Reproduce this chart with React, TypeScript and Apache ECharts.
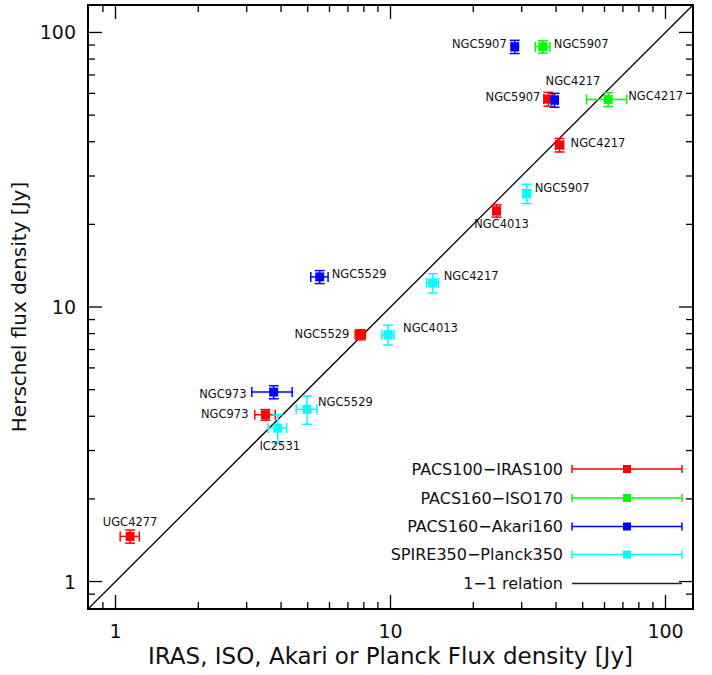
import React, { useEffect, useRef } from 'react';
import * as echarts from 'echarts';

// ---- axis extent (log10 from -0.1 to 2.1) ----
const AXIS_MIN = Math.pow(10, -0.1);
const AXIS_MAX = Math.pow(10, 2.1);
const majorTicks = [1, 10, 100];
const minorTicks = [0.9, 2, 3, 4, 5, 6, 7, 8, 9, 20, 30, 40, 50, 60, 70, 80, 90];

const xTitle = 'IRAS, ISO, Akari or Planck Flux density [Jy]';
const yTitle = 'Herschel flux density [Jy]';

// ---- PACS100 - IRAS100 (red) ----
const redNames = ['UGC4277', 'NGC973', 'NGC5529', 'NGC4013', 'NGC4217', 'NGC5907'];
const redX = [1.13, 3.51, 7.77, 24.3, 41.2, 37.5];
const redXErr = [0.09, 0.3, 0.33, 0.6, 1.4, 1.4];
const redY = [1.46, 4.05, 7.93, 22.4, 38.9, 57.2];
const redYErr = [0.08, 0.18, 0.34, 1.15, 2.2, 3.3];

// ---- PACS160 - ISO170 (green) ----
const greenNames = ['NGC5907', 'NGC4217'];
const greenX = [35.8, 61.9];
const greenXErr = [2.2, 10.3];
const greenY = [88.7, 57.0];
const greenYErr = [4.6, 3.3];

// ---- PACS160 - Akari160 (blue) ----
const blueNames = ['NGC5907', 'NGC4217', 'NGC5529', 'NGC973'];
const blueX = [28.3, 39.5, 5.53, 3.76];
const blueXErr = [0.7, 1.0, 0.4, 0.63];
const blueY = [88.7, 56.7, 12.87, 4.9];
const blueYErr = [4.9, 3.3, 0.7, 0.27];

// ---- SPIRE350 - Planck350 (cyan) ----
const cyanNames = ['IC2531', 'NGC5529', 'NGC4013', 'NGC4217', 'NGC5907'];
const cyanX = [3.89, 4.97, 9.8, 14.24, 31.3];
const cyanXErr = [0.3, 0.43, 0.5, 0.72, 1.0];
const cyanY = [3.62, 4.24, 7.93, 12.23, 25.9];
const cyanYErr = [0.43, 0.5, 0.66, 0.99, 2.1];

// label placement (pixel offsets from the marker, text alignment)
const redLabelLayout: [number, number, string][] = [
  [0, -14, 'center'], [-17, -1, 'right'], [-11, -1, 'right'],
  [5, 13, 'center'], [11, -2, 'left'], [-8, -2, 'right'],
];
const greenLabelLayout: [number, number, string][] = [[11, -3, 'left'], [20, -3, 'left']];
const blueLabelLayout: [number, number, string][] = [
  [-8, -3, 'right'], [-9, -19, 'left'], [12, -3, 'left'], [-27, 2, 'right'],
];
const cyanLabelLayout: [number, number, string][] = [
  [2, 18, 'center'], [11, -7, 'left'], [15, -7, 'left'], [11, -7, 'left'], [8, -6, 'left'],
];

const legendNames = ['PACS100−IRAS100', 'PACS160−ISO170', 'PACS160−Akari160', 'SPIRE350−Planck350'];
const colors = ['#ff0000', '#00ff00', '#0000ff', '#00ffff'];

const FONT = '"DejaVu Sans", "Liberation Sans", sans-serif';
const TEXT_COLOR = '#111';

function makeErrorSeries(
  name: string, color: string, names: string[], xs: number[], xe: number[],
  ys: number[], ye: number[], layout: [number, number, string][]
) {
  const data = xs.map((x, i) => [x, ys[i], xe[i], ye[i]]);
  return {
    type: 'custom',
    name,
    data,
    encode: { x: 0, y: 1 },
    clip: false,
    z: 5,
    renderItem: (params: any, api: any) => {
      const x = api.value(0);
      const y = api.value(1);
      const dx = api.value(2);
      const dy = api.value(3);
      const c = api.coord([x, y]);
      const xl = api.coord([x - dx, y])[0];
      const xr = api.coord([x + dx, y])[0];
      const yt = api.coord([x, y + dy])[1];
      const yb = api.coord([x, y - dy])[1];
      const cap = 5;
      const ls = { stroke: color, lineWidth: 1.5 };
      const lay = layout[params.dataIndex];
      return {
        type: 'group',
        children: [
          { type: 'line', shape: { x1: xl, y1: c[1], x2: xr, y2: c[1] }, style: ls },
          { type: 'line', shape: { x1: xl, y1: c[1] - cap, x2: xl, y2: c[1] + cap }, style: ls },
          { type: 'line', shape: { x1: xr, y1: c[1] - cap, x2: xr, y2: c[1] + cap }, style: ls },
          { type: 'line', shape: { x1: c[0], y1: yt, x2: c[0], y2: yb }, style: ls },
          { type: 'line', shape: { x1: c[0] - cap, y1: yt, x2: c[0] + cap, y2: yt }, style: ls },
          { type: 'line', shape: { x1: c[0] - cap, y1: yb, x2: c[0] + cap, y2: yb }, style: ls },
          { type: 'rect', shape: { x: c[0] - 4.5, y: c[1] - 4.5, width: 9, height: 9 }, style: { fill: color } },
          {
            type: 'text',
            style: {
              text: names[params.dataIndex],
              x: c[0] + lay[0],
              y: c[1] + lay[1],
              align: lay[2],
              verticalAlign: 'middle',
              fill: TEXT_COLOR,
              fontSize: 11.5,
              fontFamily: FONT,
            },
          },
        ],
      };
    },
  };
}

function makeTickSeries() {
  const data = [
    ...majorTicks.map((v) => [v, 14]),
    ...minorTicks.map((v) => [v, 7]),
  ];
  return {
    type: 'custom',
    data,
    encode: { x: 0, y: 0 },
    clip: false,
    silent: true,
    z: 3,
    renderItem: (_params: any, api: any) => {
      const v = api.value(0);
      const L = api.value(1);
      const b = api.coord([v, AXIS_MIN]);
      const t = api.coord([v, AXIS_MAX]);
      const l = api.coord([AXIS_MIN, v]);
      const r = api.coord([AXIS_MAX, v]);
      const st = { stroke: '#000', lineWidth: 1.3 };
      return {
        type: 'group',
        children: [
          { type: 'line', shape: { x1: b[0], y1: b[1], x2: b[0], y2: b[1] - L }, style: st },
          { type: 'line', shape: { x1: t[0], y1: t[1], x2: t[0], y2: t[1] + L }, style: st },
          { type: 'line', shape: { x1: l[0], y1: l[1], x2: l[0] + L, y2: l[1] }, style: st },
          { type: 'line', shape: { x1: r[0], y1: r[1], x2: r[0] - L, y2: r[1] }, style: st },
        ],
      };
    },
  };
}

function legendGraphic() {
  const rows = [469, 498, 526.5, 554.5];
  const x1 = 572, x2 = 682, xm = 627, textX = 563;
  const children: any[] = [];
  rows.forEach((y, i) => {
    const st = { stroke: colors[i], lineWidth: 1.5 };
    children.push(
      { type: 'text', style: { text: legendNames[i], x: textX, y, align: 'right', verticalAlign: 'middle', fill: TEXT_COLOR, fontSize: 16, fontFamily: FONT } },
      { type: 'line', shape: { x1, y1: y, x2, y2: y }, style: st },
      { type: 'line', shape: { x1, y1: y - 4, x2: x1, y2: y + 4 }, style: st },
      { type: 'line', shape: { x1: x2, y1: y - 4, x2, y2: y + 4 }, style: st },
      { type: 'rect', shape: { x: xm - 4, y: y - 4, width: 8, height: 8 }, style: { fill: colors[i] } },
    );
  });
  children.push(
    { type: 'text', style: { text: '1−1 relation', x: textX, y: 583.5, align: 'right', verticalAlign: 'middle', fill: TEXT_COLOR, fontSize: 16, fontFamily: FONT } },
    { type: 'line', shape: { x1, y1: 583.5, x2, y2: 583.5 }, style: { stroke: '#222', lineWidth: 1.5 } },
  );
  return children;
}

export default function App() {
  const ref = useRef<HTMLDivElement>(null);
  useEffect(() => {
    if (!ref.current) return;
    const chart = echarts.init(ref.current, undefined, { renderer: 'svg' });
    const labelFmt = (v: number) => {
      const r = Math.round(v);
      return majorTicks.includes(r) && Math.abs(v - r) < 1e-6 ? String(r) : '';
    };
    const axisCommon = {
      type: 'log',
      logBase: 10,
      min: AXIS_MIN,
      max: AXIS_MAX,
      axisLine: { show: false },
      axisTick: { show: false },
      splitLine: { show: false },
      nameLocation: 'middle',
      axisLabel: {
        fontSize: 19,
        fontFamily: FONT,
        color: TEXT_COLOR,
        margin: 12,
        formatter: labelFmt,
        showMinLabel: true,
        showMaxLabel: true,
      },
    };
    chart.setOption({
      animation: false,
      backgroundColor: '#fff',
      grid: {
        left: 88,
        top: 5,
        right: 19,
        bottom: 66,
        show: true,
        borderColor: '#000',
        borderWidth: 2,
        backgroundColor: 'transparent',
      },
      xAxis: {
        ...axisCommon,
        name: xTitle,
        nameGap: 31,
        nameTextStyle: { fontSize: 23, fontFamily: FONT, color: TEXT_COLOR },
      },
      yAxis: {
        ...axisCommon,
        name: yTitle,
        nameGap: 46,
        nameTextStyle: { fontSize: 20, fontFamily: FONT, color: TEXT_COLOR },
      },
      graphic: legendGraphic(),
      series: [
        {
          type: 'line',
          data: [[AXIS_MIN, AXIS_MIN], [AXIS_MAX, AXIS_MAX]],
          symbol: 'none',
          lineStyle: { color: '#000', width: 1.3 },
          silent: true,
          z: 2,
        },
        makeTickSeries(),
        makeErrorSeries(legendNames[0], colors[0], redNames, redX, redXErr, redY, redYErr, redLabelLayout),
        makeErrorSeries(legendNames[1], colors[1], greenNames, greenX, greenXErr, greenY, greenYErr, greenLabelLayout),
        makeErrorSeries(legendNames[2], colors[2], blueNames, blueX, blueXErr, blueY, blueYErr, blueLabelLayout),
        makeErrorSeries(legendNames[3], colors[3], cyanNames, cyanX, cyanXErr, cyanY, cyanYErr, cyanLabelLayout),
      ],
    });
    return () => chart.dispose();
  }, []);
  return (
    <div
      ref={ref}
      style={{ position: 'fixed', left: 0, top: 0, width: 712, height: 675, background: '#fff' }}
    />
  );
}
